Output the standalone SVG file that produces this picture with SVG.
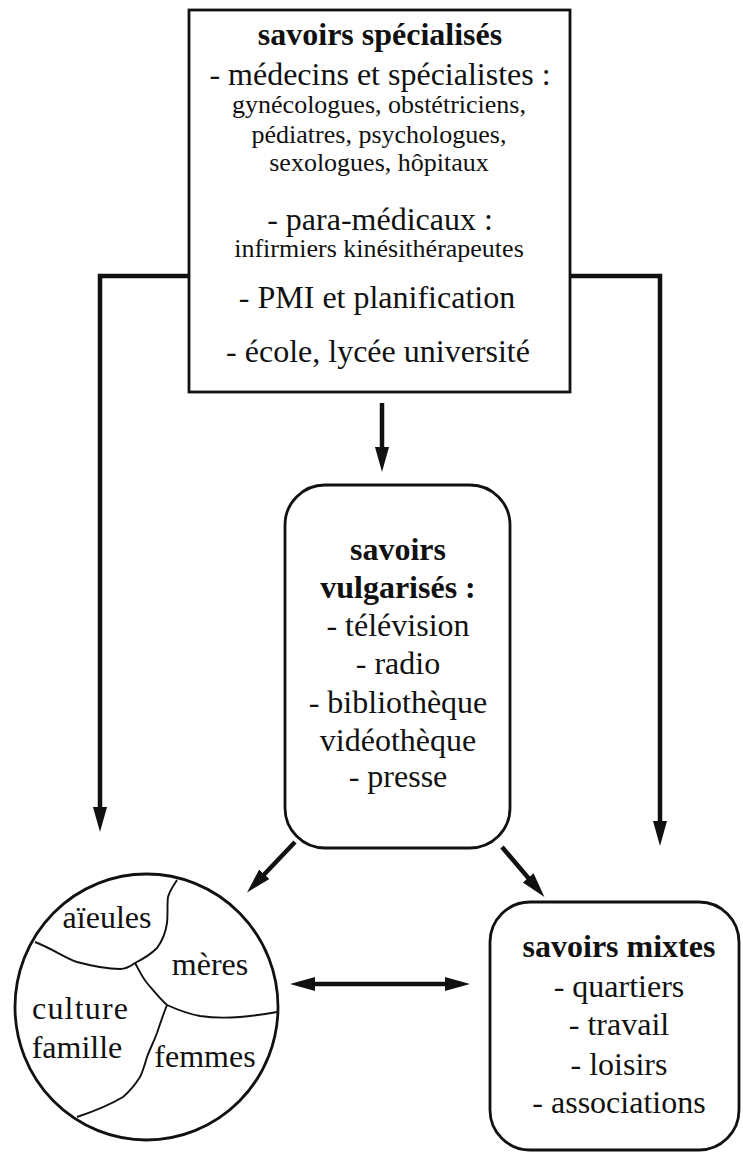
<svg xmlns="http://www.w3.org/2000/svg" width="743" height="1153" viewBox="0 0 743 1153" font-family="'Liberation Serif', 'Times New Roman', Times, 'DejaVu Serif', serif">
<style>
  .box { fill: none; stroke: #111; stroke-width: 2.8; }
  .conn { fill: none; stroke: #111; stroke-width: 4.5; }
  .div { fill: none; stroke: #111; stroke-width: 1.9; }
  text { font-family: 'Liberation Serif', 'Times New Roman', Times, 'DejaVu Serif', serif; fill: #111; text-anchor: middle; }
  .b { font-weight: bold; font-size: 32px; }
  .l { font-size: 32px; }
  .s { font-size: 26px; }
</style>
<defs>
  <marker id="ah" markerUnits="userSpaceOnUse" markerWidth="26" markerHeight="16" refX="12" refY="7" orient="auto-start-reverse">
    <path d="M0,0 L25,7 L0,14 Z" fill="#111"/>
  </marker>
</defs>
<rect width="743" height="1153" fill="#fff"/>

<g id="connectors">
  <line class="conn" x1="382" y1="403" x2="382" y2="459" marker-end="url(#ah)"/>
  <path class="conn" d="M189,276 H100 V819" marker-end="url(#ah)"/>
  <path class="conn" d="M570,276 H660 V833" marker-end="url(#ah)"/>
  <line class="conn" x1="295" y1="842" x2="256" y2="883" marker-end="url(#ah)"/>
  <line class="conn" x1="502" y1="847" x2="536" y2="887" marker-end="url(#ah)"/>
  <line class="conn" x1="303" y1="984" x2="457" y2="984" marker-start="url(#ah)" marker-end="url(#ah)"/>
</g>

<g id="savoirs-specialises">
  <rect class="box" x="189" y="10" width="381" height="382"/>
  <text class="b" x="380" y="45">savoirs spécialisés</text>
  <text class="l" x="380" y="85">- médecins et spécialistes :</text>
  <text class="s" x="379" y="113">gynécologues, obstétriciens,</text>
  <text class="s" x="379" y="143">pédiatres, psychologues,</text>
  <text class="s" x="379" y="171">sexologues, hôpitaux</text>
  <text class="l" x="380" y="230">- para-médicaux :</text>
  <text class="s" x="379" y="257">infirmiers kinésithérapeutes</text>
  <text class="l" x="377" y="308">- PMI et planification</text>
  <text class="l" x="378" y="362">- école, lycée université</text>
</g>

<g id="savoirs-vulgarises">
  <rect class="box" x="285" y="485" width="225" height="363" rx="40" ry="40"/>
  <text class="b" x="398" y="560">savoirs</text>
  <text class="b" x="398" y="598">vulgarisés :</text>
  <text class="l" x="398" y="636">- télévision</text>
  <text class="l" x="398" y="674">- radio</text>
  <text class="l" x="398" y="713">- bibliothèque</text>
  <text class="l" x="398" y="751">vidéothèque</text>
  <text class="l" x="398" y="787">- presse</text>
</g>

<g id="culture-famille">
  <ellipse class="box" cx="146.5" cy="1007" rx="131.5" ry="133"/>
  <path class="div" d="M35,942 C55,950 65,958 77,962 C92,966 108,969 120,969 C127,969 131,966 135,963 C145,958 152,953 157,948 C163,940 166,930 167,923 C168,914 167,905 168,897 C170,890 174,885 177,880"/>
  <path class="div" d="M135,963 C139,970 142,977 147,983 C153,990 160,999 167,1005 C178,1010 189,1014 200,1016 C213,1018 227,1018 240,1017 C253,1016 266,1014 277,1012"/>
  <path class="div" d="M167,1005 C163,1015 160,1024 157,1033 C154,1041 150,1049 147,1057 C145,1064 143,1071 140,1077 C135,1085 130,1091 123,1097 C108,1106 92,1112 77,1117"/>
  <text class="l" x="107" y="928">aïeules</text>
  <text class="l" x="210" y="975">mères</text>
  <text class="l" x="80" y="1019" textLength="96" lengthAdjust="spacing">culture</text>
  <text class="l" x="77" y="1058">famille</text>
  <text class="l" x="205" y="1067">femmes</text>
</g>

<g id="savoirs-mixtes">
  <rect class="box" x="490" y="902" width="249" height="248" rx="40" ry="40"/>
  <text class="b" x="619" y="957">savoirs mixtes</text>
  <text class="l" x="619" y="997">- quartiers</text>
  <text class="l" x="619" y="1035">- travail</text>
  <text class="l" x="619" y="1075">- loisirs</text>
  <text class="l" x="619" y="1113">- associations</text>
</g>
</svg>
